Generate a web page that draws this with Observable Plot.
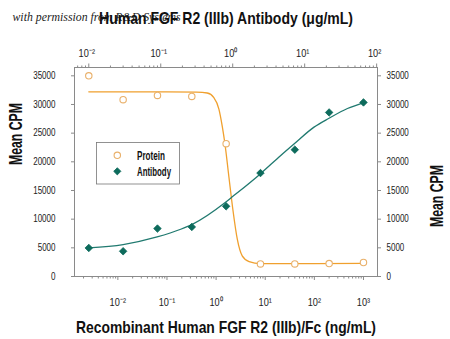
<!DOCTYPE html>
<html><head><meta charset="utf-8">
<script src="https://cdn.jsdelivr.net/npm/d3@7"></script>
<script src="https://cdn.jsdelivr.net/npm/@observablehq/plot@0.6"></script>
<style>body{margin:0;background:#fff}</style>
</head><body><div id="chart"></div>
<script>
// ---- data ----
const proteinConc = [0.00256, 0.0128, 0.064, 0.32, 1.6, 8, 40, 200, 1000];      // ng/mL (bottom axis)
const antibodyConc = [0.01, 0.03, 0.09, 0.27, 0.81, 2.43, 7.29, 21.87, 65.61];  // µg/mL (top axis)
const proteinCPM = [35000, 30830, 31580, 31400, 23160, 2190, 2190, 2260, 2440];
const antibodyCPM = [4980, 4400, 8360, 8640, 12240, 18040, 22120, 28610, 30360];
const proteinFitX = [0.00256, 0.01, 0.1, 0.4, 0.66, 0.9, 1.14, 1.34, 1.51, 1.82, 2.2, 2.7, 3.4, 4.7, 8, 20, 100, 1000];
const proteinFitY = [32200, 32200, 32200, 32150, 32000, 31200, 29200, 26100, 23200, 17400, 11600, 6500, 3600, 2600, 2260, 2250, 2260, 2300];
const antibodyFitX = [0.00256, 0.0128, 0.063, 0.19, 0.32, 1.58, 2.14, 8.05, 20.7, 38.5, 98.4, 199, 472, 982];
const antibodyFitY = [4980, 5570, 6900, 8240, 9060, 13000, 13900, 17940, 21100, 23100, 26050, 27600, 29300, 30300];
const yTicks = [0, 5000, 10000, 15000, 20000, 25000, 30000, 35000];
const bottomTicks = [0.01, 0.1, 1, 10, 100, 1000];
const topTicks = [0.01, 0.1, 1, 10, 100];
const seriesNames = ["Protein", "Antibody"];
const titleTop = "Human FGF R2 (IIIb) Antibody (\u03bcg/mL)";
const titleBottom = "Recombinant Human FGF R2 (IIIb)/Fc (ng/mL)";
const yTitle = "Mean CPM";
const watermark = "with permission from R&D Systems";

// ---- derived tables ----
const points = proteinConc.map((c, i) => ({c, protein: proteinCPM[i], antibody: antibodyCPM[i]}));
const protFit = proteinFitX.map((x, i) => ({x, y: proteinFitY[i]}));
const abFit = antibodyFitX.map((x, i) => ({x, y: antibodyFitY[i]}));

// map antibody (top) concentration onto the protein (bottom) x scale, log-linear
const a0 = Math.log10(antibodyConc[0]), a1 = Math.log10(antibodyConc[antibodyConc.length - 1]);
const p0 = Math.log10(proteinConc[0]), p1 = Math.log10(proteinConc[proteinConc.length - 1]);
const topToBottom = t => Math.pow(10, p0 + (Math.log10(t) - a0) * (p1 - p0) / (a1 - a0));

const xDomain = [0.00131, 1930];
const minorBottom = [], minorTop = [];
for (let k = -4; k <= 3; k++) for (let m = 2; m <= 9; m++) {
  const v = m * Math.pow(10, k);
  if (v > xDomain[0] && v < xDomain[1]) minorBottom.push(v);
  const tb = topToBottom(v);
  if (tb > xDomain[0] && tb < xDomain[1]) minorTop.push(tb);
}
const sup = {"-": "\u207b", "0": "\u2070", "1": "\u00b9", "2": "\u00b2", "3": "\u00b3"};
const pow10 = v => "10" + String(Math.round(Math.log10(v))).replace(/./g, ch => sup[ch] || ch);
const topLabels = topTicks.map(t => ({x: topToBottom(t), label: pow10(t)}));

const ORANGE = "#f0a02e", ORANGE_PT = "#e9b06a", TEAL = "#0d6b5c", TEAL_LINE = "#217a70";
const FONT = "'Liberation Sans',Arial,sans-serif";
const AX = "#8a8a8a";

// filled diamond (square rotated 45°)
const diamond = {draw(ctx, size) { const s = Math.sqrt(size / 2);
  ctx.moveTo(0, -s); ctx.lineTo(s, 0); ctx.lineTo(0, s); ctx.lineTo(-s, 0); ctx.closePath(); }};

const chart = Plot.plot({
  width: 450, height: 339,
  marginLeft: 74, marginRight: 73, marginTop: 67, marginBottom: 63,
  style: {fontFamily: FONT, fontSize: "10px", color: "#222", background: "#fff"},
  x: {type: "log", domain: xDomain},
  y: {domain: [0, 36450]},
  marks: [
    Plot.frame({stroke: AX}),
    Plot.axisY({anchor: "left", ticks: yTicks, tickSize: 3, tickPadding: 16, tickFormat: d => String(d), label: null, stroke: AX, fontSize: 10}),
    Plot.axisY({anchor: "right", ticks: yTicks, tickSize: 3, tickPadding: 6, tickFormat: d => String(d), label: null, stroke: AX, fontSize: 10}),
    Plot.axisX({anchor: "bottom", ticks: bottomTicks, tickSize: 4, tickPadding: 17, tickFormat: pow10, label: null, stroke: AX, fontSize: 11.5}),
    Plot.axisX({anchor: "bottom", ticks: minorBottom, tickSize: 2.5, text: null, label: null, stroke: AX}),
    Plot.axisX({anchor: "top", ticks: topLabels.map(d => d.x), tickSize: 4.5, text: null, label: null, stroke: AX}),
    Plot.axisX({anchor: "top", ticks: minorTop, tickSize: 2.5, text: null, label: null, stroke: AX}),
    Plot.text(topLabels, {x: "x", text: "label", frameAnchor: "top", dx: -2, dy: -11, lineAnchor: "bottom", fontSize: 11.5, fill: "#222"}),
    Plot.line(protFit, {x: "x", y: "y", curve: "monotone-x", stroke: ORANGE, strokeWidth: 1.3}),
    Plot.line(abFit, {x: "x", y: "y", curve: "monotone-x", stroke: TEAL_LINE, strokeWidth: 1.3}),
    Plot.dot(points, {x: "c", y: "protein", r: 3.2, stroke: ORANGE_PT, strokeWidth: 1.1, fill: "white"}),
    Plot.dot(points, {x: "c", y: "antibody", r: 3.0, symbol: diamond, fill: TEAL, stroke: TEAL, strokeWidth: 0.8}),
    Plot.text([watermark], {frameAnchor: "top-left", dx: -62, dy: -47, textAnchor: "start", lineAnchor: "bottom",
      fontSize: 12, fontStyle: "italic", fontFamily: "'Liberation Serif','DejaVu Serif',serif", fill: "#222"}),
    Plot.text([titleTop], {frameAnchor: "top", dy: -44, lineAnchor: "bottom", fontSize: 17, fontWeight: "bold", fill: "#111"}),
    Plot.text([titleBottom], {frameAnchor: "bottom", dy: 56, lineAnchor: "bottom", fontSize: 17, fontWeight: "bold", fill: "#111"}),
    Plot.text([yTitle], {frameAnchor: "left", dx: -58, dy: -7, rotate: -90, fontSize: 18, fontWeight: "bold", fill: "#111"}),
    Plot.text([yTitle], {frameAnchor: "right", dx: 60, dy: -7, rotate: -90, fontSize: 18, fontWeight: "bold", fill: "#111"})
  ]
});

// legend box
const svg = d3.select(chart);
const lg = svg.append("g").attr("font-family", FONT).attr("font-size", 12).attr("text-anchor", "start");
lg.append("rect").attr("x", 96.5).attr("y", 142.5).attr("width", 83).attr("height", 41.5)
  .attr("fill", "white").attr("stroke", "#777").attr("stroke-width", 0.8);
lg.append("circle").attr("cx", 117.3).attr("cy", 155.3).attr("r", 3.2)
  .attr("fill", "white").attr("stroke", ORANGE_PT).attr("stroke-width", 1.1);
lg.append("path").attr("d", "M0,-3.6L3.6,0L0,3.6L-3.6,0Z").attr("transform", "translate(117.3,171.3)")
  .attr("fill", TEAL).attr("stroke", TEAL).attr("stroke-width", 0.8);
lg.append("text").attr("x", 137).attr("y", 159.5).attr("fill", "#111").attr("font-weight", "bold").text(seriesNames[0]);
lg.append("text").attr("x", 137).attr("y", 175.5).attr("fill", "#111").attr("font-weight", "bold").text(seriesNames[1]);

document.getElementById("chart").append(chart);

// emulate the condensed typeface of the original
const targets = new Map([[titleTop, 254], [titleBottom, 300], [yTitle, 62], [watermark, 168], [seriesNames[0], 28], [seriesNames[1], 34]]);
chart.querySelectorAll("text").forEach(el => {
  const w = el.getComputedTextLength();
  if (!(w > 0)) return;
  const t = el.textContent;
  const target = targets.has(t) ? targets.get(t) : w * 0.8;
  el.setAttribute("textLength", target.toFixed(1));
  el.setAttribute("lengthAdjust", "spacingAndGlyphs");
});
</script>
</body></html>
